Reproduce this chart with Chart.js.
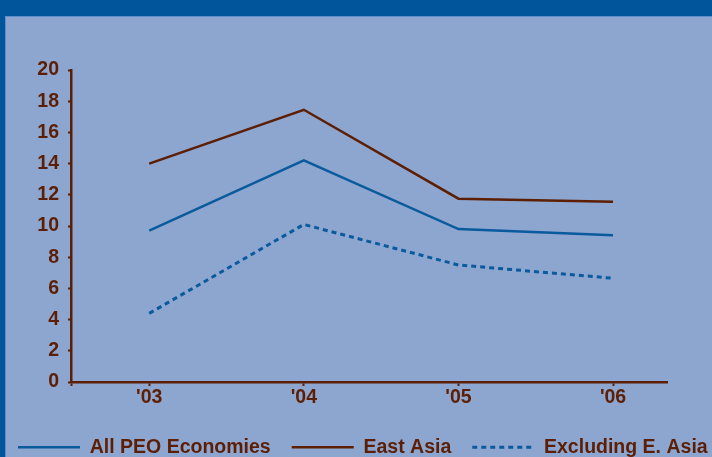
<!DOCTYPE html>
<html>
<head>
<meta charset="utf-8">
<script src="https://cdn.jsdelivr.net/npm/chart.js@4/dist/chart.umd.min.js"></script>
<style>
  html, body { margin: 0; padding: 0; background: #8da6cf; }
  #frame {
    position: relative;
    width: 712px; height: 457px;
    box-sizing: border-box;
    background: #8da6cf;
    border-top: 16px solid #00559b;
    border-left: 5px solid #00559b;
    box-shadow: inset 1px 1px 0 #5f8ccb;
    overflow: hidden;
  }
  #wrap { position: absolute; left: -5px; top: -16px; width: 712px; height: 457px; }
</style>
</head>
<body>
<div id="frame">
  <div id="wrap"><canvas id="growth"></canvas></div>
</div>
<script>
// chart data
var categories = ["'03", "'04", "'05", "'06"];
var allPeo = [9.7, 14.2, 9.8, 9.4];
var eastAsia = [14.0, 17.45, 11.75, 11.55];
var exclEastAsia = [4.4, 10.1, 7.5, 6.65];
var yTickValues = [0, 2, 4, 6, 8, 10, 12, 14, 16, 18, 20];

var brown = "#5c1e04";
var blue = "#0a5a9e";
var font = { family: "'Liberation Sans', Arial, sans-serif", size: 19.5, weight: "bold" };
var xMin = -0.506, xMax = 3.349;

function toPoints(values) {
	return values.map(function(v, i) { return { x: i, y: v }; });
}

var ctx = document.getElementById("growth");
new Chart(ctx, {
	type: 'line',
	data: {
		datasets: [{
			label: "All PEO Economies",
			data: toPoints(allPeo),
			borderColor: blue,
			backgroundColor: blue,
			borderWidth: 2.5,
		},
		{
			label: "East Asia",
			data: toPoints(eastAsia),
			borderColor: brown,
			backgroundColor: brown,
			borderWidth: 2.5,
		},
		{
			label: "Excluding E. Asia",
			data: toPoints(exclEastAsia),
			borderColor: blue,
			backgroundColor: blue,
			borderWidth: 3,
			borderDash: [5, 4],
		}],
	},
	options: {
		responsive: true,
		maintainAspectRatio: false,
		animation: false,
		elements: {
			point: { radius: 0, hoverRadius: 0 },
			line: { tension: 0 }
		},
		layout: {
			padding: { left: -3, right: -26, top: 70, bottom: -10 }
		},
		plugins: {
			tooltip: { enabled: false },
			legend: {
				position: 'bottom',
				align: 'start',
				labels: {
					usePointStyle: true,
					pointStyle: 'line',
					pointStyleWidth: 62,
					padding: 21,
					color: brown,
					font: font,
					generateLabels: function(chart) {
						var items = Chart.defaults.plugins.legend.labels.generateLabels(chart);
						items.forEach(function(item) {
							var ds = chart.data.datasets[item.datasetIndex];
							item.lineDash = ds.borderDash || [];
							item.lineWidth = ds.borderWidth;
							item.strokeStyle = ds.borderColor;
							item.fontColor = brown;
						});
						return items;
					}
				}
			}
		},
		scales: {
			x: {
				type: 'linear',
				min: xMin,
				max: xMax,
				afterBuildTicks: function(scale) {
					// unlabelled tick at the left end, then one per year
					scale.ticks = [{ value: xMin }].concat(categories.map(function(c, i) { return { value: i }; }));
				},
				afterFit: function(scale) {
					scale.height = 34.5;
				},
				grid: {
					drawOnChartArea: false,
					tickLength: 4,
					tickWidth: 2,
					tickColor: brown
				},
				border: { color: brown, width: 2.5 },
				ticks: {
					padding: 0,
					color: brown,
					font: font,
					maxRotation: 0,
					callback: function(value) {
						return categories[value] || '';
					}
				}
			},
			y: {
				min: 0,
				max: 20,
				afterBuildTicks: function(scale) {
					scale.ticks = yTickValues.map(function(v) { return { value: v }; });
				},
				afterFit: function(scale) {
					scale.width = 74;
				},
				grid: {
					drawOnChartArea: false,
					tickLength: 3,
					tickWidth: 2,
					tickColor: brown
				},
				border: { color: brown, width: 2.5 },
				ticks: {
					padding: 9,
					color: brown,
					font: font
				}
			},
			// empty right-hand margin
			yRight: {
				position: 'right',
				display: true,
				min: 0,
				max: 20,
				afterFit: function(scale) {
					scale.width = 71;
				},
				grid: { display: false },
				border: { display: false },
				ticks: { display: false }
			}
		}
	}
});
</script>
</body>
</html>
